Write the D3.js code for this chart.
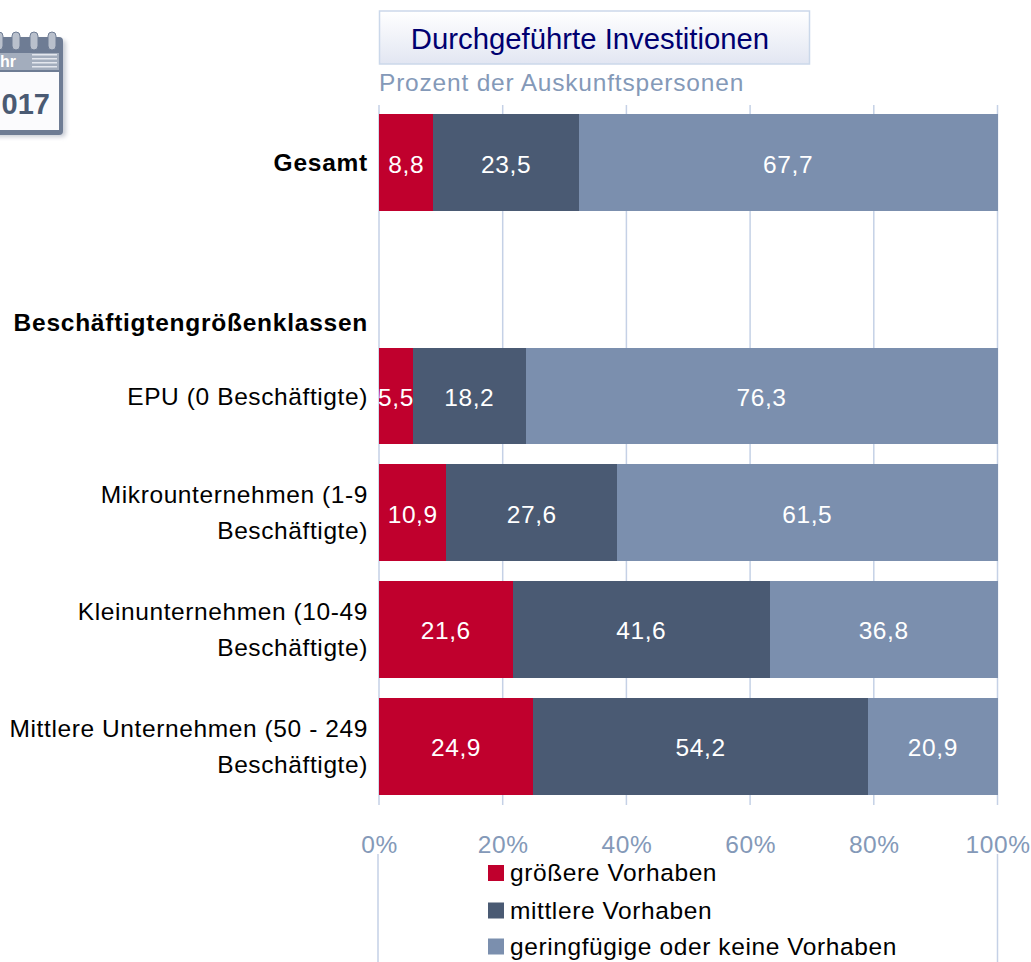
<!DOCTYPE html>
<html>
<head>
<meta charset="utf-8">
<title>Durchgeführte Investitionen</title>
<script src="https://cdn.jsdelivr.net/npm/d3@7"></script>
<style>
  html, body { margin: 0; padding: 0; background: #fff; overflow: hidden; }
  svg { display: block; font-family: "Liberation Sans", Arial, sans-serif; }
</style>
</head>
<body>
<div id="chart"></div>
<script>
(function () {
  "use strict";

  var categories = ["Gesamt", "", "EPU (0 Beschäftigte)", "Mikrounternehmen (1-9|Beschäftigte)",
    "Kleinunternehmen (10-49|Beschäftigte)", "Mittlere Unternehmen (50 - 249|Beschäftigte)"];
  var seriesNames = ["größere Vorhaben", "mittlere Vorhaben", "geringfügige oder keine Vorhaben"];
  var seriesColors = ["#c0002d", "#4a5a73", "#7b8fae"];
  var larger = [8.8, null, 5.5, 10.9, 21.6, 24.9];
  var medium = [23.5, null, 18.2, 27.6, 41.6, 54.2];
  var minor = [67.7, null, 76.3, 61.5, 36.8, 20.9];
  var xTicks = [0, 20, 40, 60, 80, 100];

  var width = 1031, height = 962;
  var gridColor = "#c5d1e6", axisText = "#8499b8";
  var labelSize = 24.5, labelSpacing = 0.6;

  var svg = d3.select("#chart").append("svg").attr("width", width).attr("height", height);

  var x = d3.scaleLinear().domain([0, 100]).range([379, 997.5]);
  var y = d3.scaleBand().domain(d3.range(categories.length)).range([104.3, 804.5]).paddingInner(0.17).paddingOuter(0.085);

  // gradient for the title box
  var defs = svg.append("defs");
  var grad = defs.append("linearGradient")
    .attr("id", "titleFill").attr("x1", 0).attr("x2", 0).attr("y1", 0).attr("y2", 1);
  grad.append("stop").attr("offset", "0%").attr("stop-color", "#ffffff");
  grad.append("stop").attr("offset", "100%").attr("stop-color", "#e2e6f2");
  defs.append("filter").attr("id", "soft").append("feGaussianBlur").attr("stdDeviation", 2);

  drawCalendar();

  svg.append("rect").attr("x", 379.5).attr("y", 11).attr("width", 430).attr("height", 53)
    .attr("fill", "url(#titleFill)").attr("stroke", "#cbd8ea").attr("stroke-width", 1.5);
  svg.append("text").attr("x", 590).attr("y", 49).attr("text-anchor", "middle")
    .attr("font-size", 29.3).attr("fill", "#000070").text("Durchgeführte Investitionen");
  svg.append("text").attr("x", 379).attr("y", 91).attr("font-size", labelSize)
    .attr("letter-spacing", 0.8).attr("fill", axisText).text("Prozent der Auskunftspersonen");

  // gridlines, upper part and the two stubs around the legend
  svg.append("g").selectAll("line").data(xTicks).join("line")
    .attr("x1", function (d) { return x(d); }).attr("x2", function (d) { return x(d); })
    .attr("y1", 105).attr("y2", 805)
    .attr("stroke", gridColor).attr("stroke-width", 1.5);
  svg.append("g").selectAll("line").data([0, 100]).join("line")
    .attr("x1", function (d) { return x(d) - (d === 0 ? 1 : 0); })
    .attr("x2", function (d) { return x(d) - (d === 0 ? 1 : 0); })
    .attr("y1", 854).attr("y2", height)
    .attr("stroke", gridColor).attr("stroke-width", 1.5);

  // stacked bars
  var rows = categories.map(function (c, i) {
    return { index: i, values: [larger[i], medium[i], minor[i]] };
  }).filter(function (r) { return r.values[0] !== null; });

  var stack = d3.stack().keys([0, 1, 2]).value(function (r, k) { return r.values[k]; });
  var layers = svg.append("g").selectAll("g").data(stack(rows)).join("g")
    .attr("fill", function (d) { return seriesColors[d.key]; });

  layers.selectAll("rect").data(function (d) { return d; }).join("rect")
    .attr("shape-rendering", "crispEdges")
    .attr("x", function (d) { return x(d[0]); })
    .attr("width", function (d) { return x(d[1]) - x(d[0]); })
    .attr("y", function (d) { return y(d.data.index); })
    .attr("height", y.bandwidth());

  layers.each(function (layer) {
    d3.select(this).selectAll("text").data(layer).join("text")
      .attr("x", function (d) { return (x(d[0]) + x(d[1])) / 2; })
      .attr("y", function (d) { return y(d.data.index) + y.bandwidth() / 2 + 10; })
      .attr("text-anchor", "middle").attr("font-size", labelSize)
      .attr("letter-spacing", labelSpacing).attr("fill", "#fff")
      .text(function (d) { return String(d.data.values[layer.key]).replace(".", ","); });
  });

  // category labels
  var labels = svg.append("g").attr("font-size", labelSize).attr("fill", "#000").attr("text-anchor", "end");
  categories.forEach(function (c, i) {
    if (!c) { return; }
    var mid = y(i) + y.bandwidth() / 2;
    var lines = c.split("|");
    lines.forEach(function (line, j) {
      labels.append("text").attr("x", 368)
        .attr("y", mid + 8.5 + (j - (lines.length - 1) / 2) * 36)
        .attr("font-weight", i === 0 ? "bold" : null)
        .attr("letter-spacing", i === 0 ? 0.75 : labelSpacing)
        .text(line);
    });
  });
  labels.append("text").attr("x", 368).attr("y", 331).attr("font-weight", "bold")
    .attr("letter-spacing", 0.75).text("Beschäftigtengrößenklassen");

  // x axis labels
  var axis = d3.axisBottom(x).tickValues(xTicks).tickSize(0).tickFormat(function (d) { return d + "%"; });
  var axisG = svg.append("g").attr("transform", "translate(0,825)").call(axis);
  axisG.select(".domain").remove();
  axisG.selectAll("text").attr("font-size", labelSize).attr("letter-spacing", labelSpacing).attr("fill", axisText)
    .attr("font-family", "Liberation Sans, Arial, sans-serif").attr("dy", "1em");

  // legend
  var legend = svg.append("g").selectAll("g").data(seriesNames).join("g")
    .attr("transform", function (d, i) { return "translate(488," + [865, 902.5, 938.5][i] + ")"; });
  legend.append("rect").attr("width", 16).attr("height", 16)
    .attr("fill", function (d, i) { return seriesColors[i]; });
  legend.append("text").attr("x", 22).attr("y", 16).attr("font-size", labelSize)
    .attr("letter-spacing", labelSpacing).attr("fill", "#000")
    .text(function (d) { return d; });

  // calendar icon, its left part lies outside the page as in the original
  function drawCalendar() {
    var g = svg.append("g");
    g.append("rect").attr("x", -30).attr("y", 40).attr("width", 96).attr("height", 97).attr("rx", 4)
      .attr("fill", "#c9cdd6").attr("filter", "url(#soft)");
    g.append("rect").attr("x", -30).attr("y", 37).attr("width", 93).attr("height", 98).attr("rx", 4).attr("fill", "#6e7c94");
    g.append("rect").attr("x", -30).attr("y", 72).attr("width", 89).attr("height", 58).attr("fill", "#fbfbfd");
    g.append("rect").attr("x", -30).attr("y", 53).attr("width", 89).attr("height", 17).attr("fill", "#a3adbd");
    g.selectAll("rect.ring").data([-1, 16, 34, 52]).join("rect").attr("class", "ring")
      .attr("x", function (d) { return d - 4; }).attr("y", 32).attr("width", 8).attr("height", 18).attr("rx", 4)
      .attr("fill", "#b9c0cc").attr("stroke", "#6e7c94");
    g.append("text").attr("x", 16).attr("y", 67).attr("text-anchor", "end").attr("font-size", 16).attr("font-weight", "bold").attr("fill", "#fff").text("hr");
    g.selectAll("rect.tiny").data([54, 58, 62, 66]).join("rect").attr("class", "tiny")
      .attr("x", 32).attr("y", function (d) { return d; }).attr("width", 25).attr("height", 1.5).attr("fill", "#e4e7ee");
    g.append("text").attr("x", 50).attr("y", 114).attr("text-anchor", "end").attr("font-size", 29).attr("font-weight", "bold").attr("fill", "#4a5a73").text("017");
  }
})();
</script>
</body>
</html>
